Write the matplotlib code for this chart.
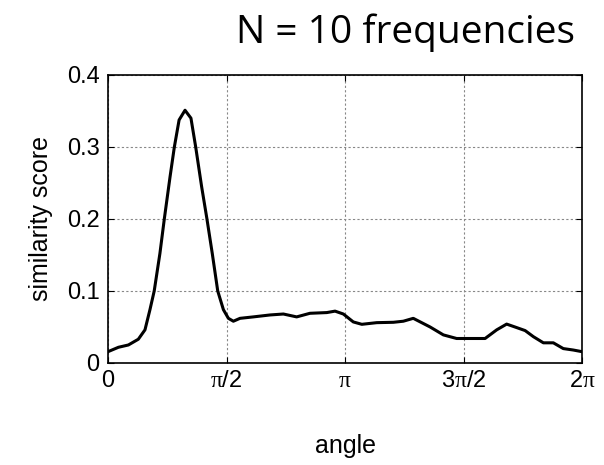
import numpy as np
import matplotlib.pyplot as plt

plt.rcParams['mathtext.fontset'] = 'custom'
plt.rcParams['mathtext.it'] = 'Liberation Serif'
plt.rcParams['mathtext.rm'] = 'Liberation Serif'

# angle in multiples of pi, similarity score
angle_pi = [0.0, 0.044, 0.086, 0.128, 0.156, 0.177, 0.195, 0.219, 0.238,
            0.262, 0.280, 0.300, 0.325, 0.350, 0.370, 0.395, 0.417, 0.440,
            0.463, 0.487, 0.508, 0.529, 0.557, 0.613, 0.684, 0.740, 0.796,
            0.852, 0.923, 0.958, 0.993, 1.035, 1.071, 1.134, 1.204, 1.246,
            1.288, 1.359, 1.415, 1.471, 1.541, 1.591, 1.640, 1.682, 1.717,
            1.760, 1.795, 1.837, 1.879, 1.921, 1.963, 2.0]
score = [0.0157, 0.0218, 0.025, 0.033, 0.046, 0.074, 0.100, 0.152, 0.201,
         0.259, 0.300, 0.3375, 0.351, 0.340, 0.300, 0.245, 0.201, 0.152,
         0.100, 0.074, 0.062, 0.058, 0.062, 0.064, 0.0667, 0.068, 0.064,
         0.069, 0.070, 0.072, 0.068, 0.057, 0.0537, 0.056, 0.0565, 0.058,
         0.062, 0.050, 0.039, 0.034, 0.034, 0.034, 0.046, 0.054, 0.050,
         0.045, 0.0365, 0.028, 0.028, 0.020, 0.018, 0.0157]

xtick_pos = [0, 0.5, 1, 1.5, 2]
xtick_labels = ["0", r"$\pi$/2", r"$\pi$", r"3$\pi$/2", r"2$\pi$"]
ytick_pos = [0, 0.1, 0.2, 0.3, 0.4]
ytick_labels = ["0", "0.1", "0.2", "0.3", "0.4"]

fig = plt.figure(figsize=(6.04, 4.65), dpi=100)
ax = fig.add_axes([0.1788, 0.2194, 0.7848, 0.6194])

x = np.array(angle_pi) * np.pi
ax.plot(x, score, color="black", linewidth=2.2, solid_joinstyle="round")

ax.set_xlim(0, 2 * np.pi)
ax.set_ylim(0, 0.4)
ax.set_xticks(np.array(xtick_pos) * np.pi)
ax.set_xticklabels(xtick_labels, fontfamily="Liberation Sans", fontsize=17)
ax.set_yticks(ytick_pos)
ax.set_yticklabels(ytick_labels, fontfamily="Liberation Sans", fontsize=17)
ax.tick_params(axis="y", direction="in", right=True, length=4, pad=6)
ax.tick_params(axis="x", direction="in", top=True, length=4, pad=5)
ax.grid(True, color="#888888", linestyle=(0, (2, 2)), linewidth=0.8)
for s in ax.spines.values():
    s.set_linewidth(1.2)

ax.set_ylabel("similarity score", fontfamily="Liberation Sans", fontsize=18, labelpad=10)
ax.set_xlabel("angle", fontfamily="Liberation Sans", fontsize=18, labelpad=30)

fig.text(0.672, 0.9075, "N = 10 frequencies", fontfamily="Open Sans",
         fontsize=28, ha="center", va="baseline")

fig.savefig("out.png", dpi=100)
